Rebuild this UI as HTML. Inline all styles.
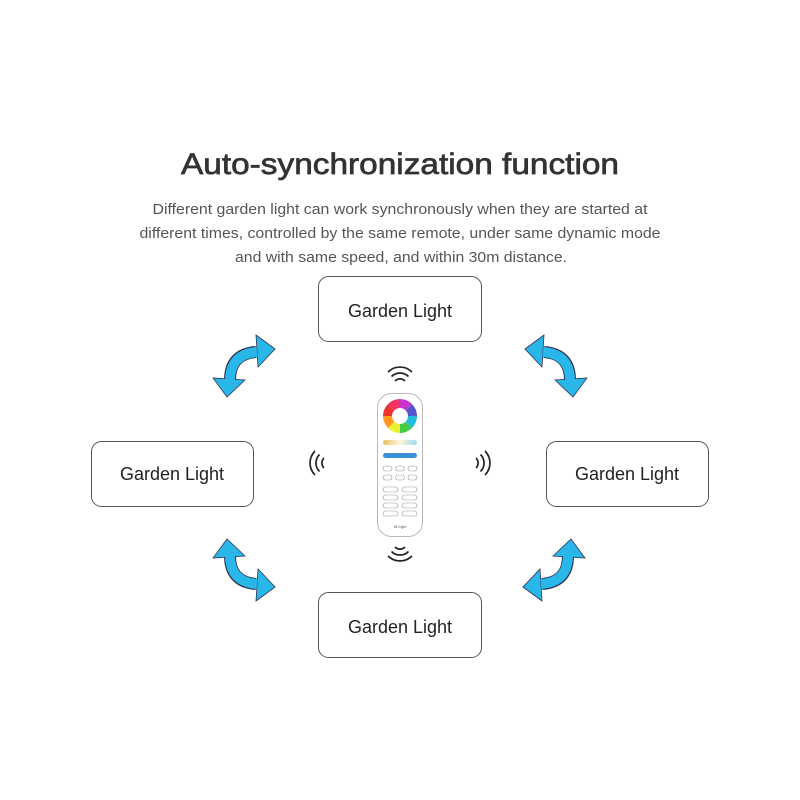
<!DOCTYPE html>
<html><head><style>html,body{margin:0;padding:0;background:#fff}svg{display:block}</style></head>
<body>
<svg width="800" height="800" viewBox="0 0 800 800" xmlns="http://www.w3.org/2000/svg" font-family="Liberation Sans, sans-serif">
<defs>
<linearGradient id="warm" x1="0" x2="1"><stop offset="0" stop-color="#e8c060"/><stop offset="0.5" stop-color="#fff6dc"/><stop offset="1" stop-color="#9fd8f0"/></linearGradient>
<g id="arr">
<path d="M12,-14 Q-14,-12 -14,14" fill="none" stroke="#335" stroke-width="12"/>
<polygon points="31,-17 12,-31 14,1" fill="#29b6e8" stroke="#335" stroke-width="0.8"/>
<polygon points="-17,31 -31,12 1,14" fill="#29b6e8" stroke="#335" stroke-width="0.8"/>
<path d="M13,-14 Q-14,-12 -14,15" fill="none" stroke="#29b6e8" stroke-width="10"/>
</g>
<g id="wave" fill="none" stroke="#222" stroke-width="1.7">
<path d="M-5,-1 A7,7 0 0 1 5,-1"/><path d="M-8.5,-5.5 A12,12 0 0 1 8.5,-5.5"/><path d="M-12,-10 A17,17 0 0 1 12,-10"/>
</g>
</defs>
<text x="400" y="174" text-anchor="middle" font-size="30" fill="#333" stroke="#333" stroke-width="0.7" textLength="438" lengthAdjust="spacingAndGlyphs">Auto-synchronization function</text>
<g font-size="15" fill="#555" text-anchor="middle">
<text x="400" y="214" textLength="495" lengthAdjust="spacingAndGlyphs">Different garden light can work synchronously when they are started at</text>
<text x="400" y="238" textLength="521" lengthAdjust="spacingAndGlyphs">different times, controlled by the same remote, under same dynamic mode</text>
<text x="401" y="262" textLength="332" lengthAdjust="spacingAndGlyphs">and with same speed, and within 30m distance.</text>
</g>
<g fill="#fff" stroke="#555" stroke-width="1">
<rect x="318.5" y="276.5" width="163" height="65" rx="10"/>
<rect x="91.5" y="441.5" width="162" height="65" rx="10"/>
<rect x="546.5" y="441.5" width="162" height="65" rx="10"/>
<rect x="318.5" y="592.5" width="163" height="65" rx="10"/>
</g>
<g font-size="18" fill="#222" text-anchor="middle">
<text x="400" y="317">Garden Light</text>
<text x="172" y="480">Garden Light</text>
<text x="627" y="480">Garden Light</text>
<text x="400" y="633">Garden Light</text>
</g>
<use href="#arr" transform="translate(244,366)"/>
<use href="#arr" transform="translate(556,366) scale(-1,1)"/>
<use href="#arr" transform="translate(244,570) scale(1,-1)"/>
<use href="#arr" transform="translate(554,570) rotate(180)"/>
<use href="#wave" transform="translate(400,382)"/>
<use href="#wave" transform="translate(400,546) rotate(180)"/>
<use href="#wave" transform="translate(325,463) rotate(-90)"/>
<use href="#wave" transform="translate(475,463) rotate(90)"/>
<rect x="377.5" y="393.5" width="45" height="143" rx="14" fill="#fff" stroke="#bbb"/>
<g fill="none" stroke-width="9">
<path d="M400,403.5 A12.5,12.5 0 0 1 408.8,407.2" stroke="#c3c"/>
<path d="M408.8,407.2 A12.5,12.5 0 0 1 412.5,416" stroke="#55c"/>
<path d="M412.5,416 A12.5,12.5 0 0 1 408.8,424.8" stroke="#2bd"/>
<path d="M408.8,424.8 A12.5,12.5 0 0 1 400,428.5" stroke="#4c4"/>
<path d="M400,428.5 A12.5,12.5 0 0 1 391.2,424.8" stroke="#ee3"/>
<path d="M391.2,424.8 A12.5,12.5 0 0 1 387.5,416" stroke="#f92"/>
<path d="M387.5,416 A12.5,12.5 0 0 1 391.2,407.2" stroke="#e33"/>
<path d="M391.2,407.2 A12.5,12.5 0 0 1 400,403.5" stroke="#e36"/>
</g>
<rect x="383" y="440" width="34" height="5" rx="2.5" fill="url(#warm)"/>
<rect x="383" y="453" width="34" height="5" rx="2.5" fill="#3b8fd6"/>
<g fill="none" stroke="#999" stroke-width="0.6">
<rect x="383" y="466" width="9" height="5" rx="2.5"/><rect x="395.5" y="466" width="9" height="5" rx="2.5"/><rect x="408" y="466" width="9" height="5" rx="2.5"/>
<rect x="383" y="475" width="9" height="5" rx="2.5"/><rect x="395.5" y="475" width="9" height="5" rx="2.5"/><rect x="408" y="475" width="9" height="5" rx="2.5"/>
<rect x="383" y="487" width="15" height="5" rx="2.5"/><rect x="402" y="487" width="15" height="5" rx="2.5"/>
<rect x="383" y="495" width="15" height="5" rx="2.5"/><rect x="402" y="495" width="15" height="5" rx="2.5"/>
<rect x="383" y="503" width="15" height="5" rx="2.5"/><rect x="402" y="503" width="15" height="5" rx="2.5"/>
<rect x="383" y="511" width="15" height="5" rx="2.5"/><rect x="402" y="511" width="15" height="5" rx="2.5"/>
</g>
<text x="400" y="528" font-size="3.5" text-anchor="middle" fill="#555">Mi·Light</text>
</svg>
</body></html>
